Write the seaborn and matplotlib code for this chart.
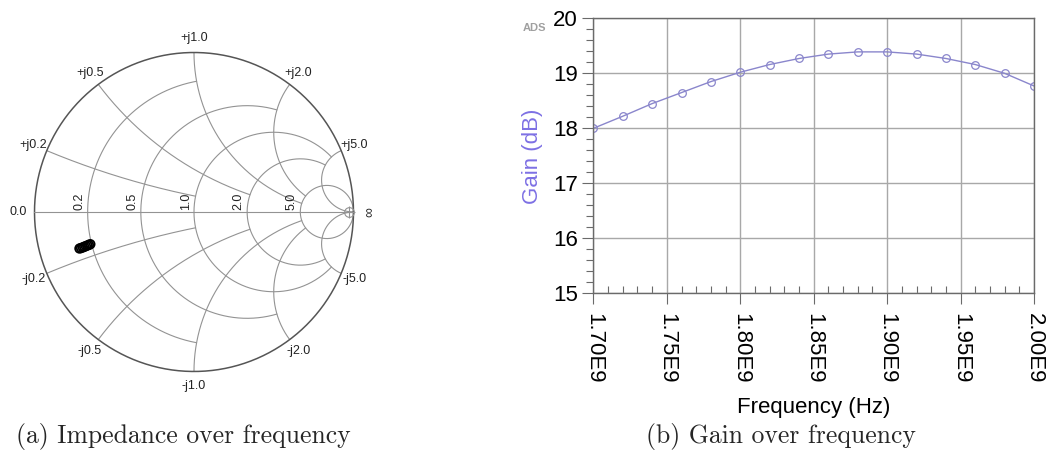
import numpy as np
import matplotlib
matplotlib.use("Agg")
import matplotlib.pyplot as plt
import seaborn as sns
from matplotlib.ticker import FixedLocator, MultipleLocator

sns.set_style("white")
plt.rcParams['font.family'] = ['Liberation Sans', 'DejaVu Sans']

# Impedance (reflection coefficient) over frequency
gamma_re = [-0.718, -0.708, -0.697, -0.688, -0.678, -0.668, -0.659, -0.650]
gamma_im = [-0.229, -0.226, -0.222, -0.218, -0.214, -0.210, -0.206, -0.202]

# Smith chart grid values
r_values = [0.2, 0.5, 1.0, 2.0, 5.0]
r_clip_x = [1.0, 2.0, 5.0, 5.0, np.inf]
x_values = [0.2, 0.5, 1.0, 2.0, 5.0]
x_clip_r = [1.0, 2.0, 5.0, 5.0, np.inf]
r_labels = ['0.2', '0.5', '1.0', '2.0', '5.0']
x_labels_pos = ['+j0.2', '+j0.5', '+j1.0', '+j2.0', '+j5.0']
x_labels_neg = ['-j0.2', '-j0.5', '-j1.0', '-j2.0', '-j5.0']

# Gain over frequency
freq_hz = [1.70e9, 1.72e9, 1.74e9, 1.76e9, 1.78e9, 1.80e9, 1.82e9, 1.84e9,
           1.86e9, 1.88e9, 1.90e9, 1.92e9, 1.94e9, 1.96e9, 1.98e9, 2.00e9]
gain_db = [18.00, 18.22, 18.45, 18.65, 18.85, 19.02, 19.16, 19.27,
           19.35, 19.39, 19.39, 19.35, 19.27, 19.16, 19.00, 18.77]
freq_ticks = [1.70e9, 1.75e9, 1.80e9, 1.85e9, 1.90e9, 1.95e9, 2.00e9]
freq_tick_labels = ['1.70E9', '1.75E9', '1.80E9', '1.85E9', '1.90E9', '1.95E9', '2.00E9']
gain_ticks = [15, 16, 17, 18, 19, 20]


def to_gamma(z):
    return (z - 1) / (z + 1)


fig = plt.figure(figsize=(10.48, 4.62), dpi=100)

# ---- (a) Smith chart ----
ax1 = fig.add_axes([0.0177, 0.1614, 0.3348, 0.7595])
ax1.set_xlim(-1.1, 1.1)
ax1.set_ylim(-1.1, 1.1)
ax1.set_aspect('equal')
ax1.axis('off')

grid_c = '#939393'
for r, xm in zip(r_values, r_clip_x):
    t = np.linspace(-np.arctan(xm), np.arctan(xm), 800)
    g = to_gamma(r + 1j * np.tan(np.clip(t, -1.5703, 1.5703)))
    ax1.plot(g.real, g.imag, color=grid_c, lw=0.8)
for x, rm in zip(x_values, x_clip_r):
    t = np.linspace(0, min(np.arctan(rm), 1.5703), 800)
    for s in (1, -1):
        g = to_gamma(np.tan(t) + 1j * s * x)
        ax1.plot(g.real, g.imag, color=grid_c, lw=0.8)

th = np.linspace(0, 2 * np.pi, 600)
ax1.plot(np.cos(th), np.sin(th), color='#555555', lw=1.1)
ax1.plot([-1, 1], [0, 0], color=grid_c, lw=0.8)
ax1.plot([0.975], [0], marker='o', ms=7, mfc='none', mec=grid_c, mew=0.8)
ax1.plot([0.975], [0], marker='+', ms=9, mec=grid_c, mew=0.8)

lab_c = '#222222'
for r, lab in zip(r_values, r_labels):
    left = to_gamma(r).real
    ax1.text(left - 0.015, 0.01, lab, rotation=90, ha='right', va='bottom',
             fontsize=9, color=lab_c)
for x, lp, ln in zip(x_values, x_labels_pos, x_labels_neg):
    g = to_gamma(1j * x)
    ang = np.angle(g)
    ax1.text(1.09 * np.cos(ang), 1.09 * np.sin(ang), lp, ha='center', va='center',
             fontsize=9, color=lab_c)
    ax1.text(1.09 * np.cos(ang), -1.09 * np.sin(ang), ln, ha='center', va='center',
             fontsize=9, color=lab_c)
ax1.text(-1.1, 0, '0.0', ha='center', va='center', fontsize=9, color=lab_c)
ax1.text(1.1, 0, '\u221e', rotation=90, ha='center', va='center', fontsize=10, color=lab_c)

sns.scatterplot(x=gamma_re, y=gamma_im, ax=ax1, marker='o', s=38,
                edgecolor='black', linewidth=1.3, zorder=5)
ax1.collections[-1].set_facecolor('none')
ax1.collections[-1].set_edgecolor('black')

# ---- (b) Gain ----
ax2 = fig.add_axes([0.5662, 0.3651, 0.4205, 0.5952])
line_c = '#8a86cc'
sns.lineplot(x=freq_hz, y=gain_db, ax=ax2, color=line_c, lw=1.0, marker='o',
             markersize=5.5, markerfacecolor='none', markeredgecolor=line_c,
             markeredgewidth=0.9)
ax2.set_xlim(1.70e9, 2.00e9)
ax2.set_ylim(15, 20)
ax2.xaxis.set_major_locator(FixedLocator(freq_ticks))
ax2.set_xticklabels(freq_tick_labels, rotation=-90)
ax2.xaxis.set_minor_locator(MultipleLocator(1e7))
ax2.yaxis.set_major_locator(FixedLocator(gain_ticks))
ax2.yaxis.set_minor_locator(MultipleLocator(0.2))
ax2.grid(True, which='major', color='#a8a8a8', lw=1.0)
for sp in ax2.spines.values():
    sp.set_color('#6a6a6a')
    sp.set_linewidth(1.0)
ax2.tick_params(axis='both', which='major', labelsize=16, length=8, width=0.8,
                color='#6a6a6a', labelcolor='black', direction='out')
ax2.tick_params(axis='y', which='major', pad=3, left=True)
ax2.tick_params(axis='x', which='major', pad=6, bottom=True)
ax2.tick_params(axis='y', which='minor', length=5, width=0.8, color='#6a6a6a',
                direction='out', left=True)
ax2.tick_params(axis='x', which='minor', length=5, width=0.8, color='#6a6a6a',
                direction='in', bottom=True)
ax2.set_xlabel('Frequency (Hz)', fontsize=16, labelpad=10, color='black')
ax2.set_ylabel('Gain (dB)', fontsize=16, color='#7d70e4')
ax2.yaxis.set_label_coords(-0.114, 0.5)

fig.text(534 / 1048, 1 - 28 / 462, 'ADS', fontsize=8, color='#a0a0a0',
         weight='bold', ha='center', va='center')

fig.text(183 / 1048, 1 - 436 / 462, '(a) Impedance over frequency',
         fontfamily='cmr10', fontsize=18.5, ha='center', va='center')
fig.text(781 / 1048, 1 - 436 / 462, '(b) Gain over frequency',
         fontfamily='cmr10', fontsize=18.5, ha='center', va='center')

fig.savefig('out.png', dpi=100)
